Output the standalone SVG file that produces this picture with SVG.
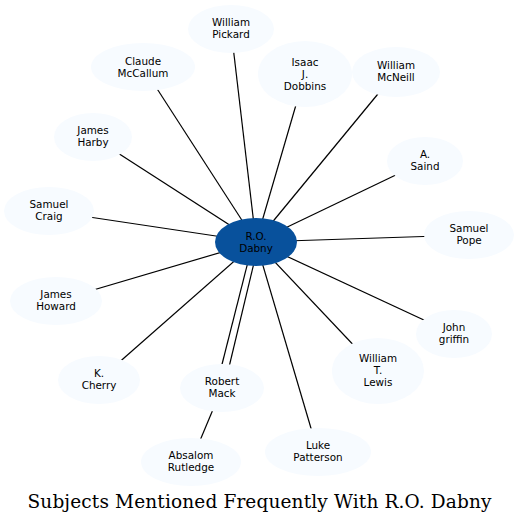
<svg xmlns="http://www.w3.org/2000/svg" width="519" height="524" viewBox="0 0 519 524">
<style>
.n ellipse{fill:#f7fbff;stroke:none}
.c ellipse{fill:#08519c;stroke:none}
text{font-family:"DejaVu Sans",sans-serif;font-size:10.4px;fill:#000;text-anchor:middle}
.e line{stroke:#000;stroke-width:1.2}
.title{font-family:"DejaVu Serif","Liberation Serif",serif;font-size:18.5px}
</style>
<rect width="519" height="524" fill="#fff"/>
<g id="edges" class="e">
<line x1="256" y1="242" x2="231" y2="29"/>
<line x1="256" y1="242" x2="143" y2="67"/>
<line x1="256" y1="242" x2="305" y2="74"/>
<line x1="256" y1="242" x2="396" y2="72"/>
<line x1="256" y1="242" x2="93" y2="137"/>
<line x1="256" y1="242" x2="425" y2="161"/>
<line x1="256" y1="242" x2="49" y2="211"/>
<line x1="256" y1="242" x2="469" y2="235"/>
<line x1="256" y1="242" x2="56" y2="301"/>
<line x1="256" y1="242" x2="454" y2="334"/>
<line x1="256" y1="242" x2="378" y2="371"/>
<line x1="256" y1="242" x2="99" y2="380"/>
<line x1="253" y1="242" x2="216" y2="388"/>
<line x1="259" y1="242" x2="224" y2="388"/>
<line x1="256" y1="242" x2="318" y2="452"/>
<line x1="222" y1="388" x2="191" y2="462"/>
</g>
<g id="n_pickard" class="n"><ellipse cx="231" cy="29" rx="43" ry="24"/><text x="231" y="26">William</text><text x="231" y="38">Pickard</text></g>
<g id="n_mccallum" class="n"><ellipse cx="143" cy="67" rx="52" ry="24"/><text x="143" y="65">Claude</text><text x="143" y="77">McCallum</text></g>
<g id="n_dobbins" class="n"><ellipse cx="305" cy="74" rx="47" ry="33"/><text x="305" y="66">Isaac</text><text x="305" y="78">J.</text><text x="305" y="90">Dobbins</text></g>
<g id="n_mcneill" class="n"><ellipse cx="396" cy="72" rx="44" ry="25"/><text x="396" y="69">William</text><text x="396" y="81">McNeill</text></g>
<g id="n_harby" class="n"><ellipse cx="93" cy="137" rx="39" ry="24"/><text x="93" y="134">James</text><text x="93" y="146">Harby</text></g>
<g id="n_saind" class="n"><ellipse cx="425" cy="161" rx="38" ry="24"/><text x="425" y="158">A.</text><text x="425" y="170">Saind</text></g>
<g id="n_craig" class="n"><ellipse cx="49" cy="211" rx="45" ry="24"/><text x="49" y="208">Samuel</text><text x="49" y="220">Craig</text></g>
<g id="n_pope" class="n"><ellipse cx="469" cy="235" rx="45" ry="24"/><text x="469" y="232">Samuel</text><text x="469" y="244">Pope</text></g>
<g id="n_howard" class="n"><ellipse cx="56" cy="301" rx="46" ry="24"/><text x="56" y="298">James</text><text x="56" y="310">Howard</text></g>
<g id="n_griffin" class="n"><ellipse cx="454" cy="334" rx="38" ry="24"/><text x="454" y="331">John</text><text x="454" y="343">griffin</text></g>
<g id="n_lewis" class="n"><ellipse cx="378" cy="371" rx="46" ry="33"/><text x="378" y="362">William</text><text x="378" y="374">T.</text><text x="378" y="386">Lewis</text></g>
<g id="n_cherry" class="n"><ellipse cx="99" cy="380" rx="41" ry="24"/><text x="99" y="377">K.</text><text x="99" y="389">Cherry</text></g>
<g id="n_mack" class="n"><ellipse cx="222" cy="388" rx="42" ry="24"/><text x="222" y="385">Robert</text><text x="222" y="397">Mack</text></g>
<g id="n_rutledge" class="n"><ellipse cx="191" cy="462" rx="50" ry="24"/><text x="191" y="459">Absalom</text><text x="191" y="471">Rutledge</text></g>
<g id="n_patterson" class="n"><ellipse cx="318" cy="452" rx="53" ry="24"/><text x="318" y="449">Luke</text><text x="318" y="461">Patterson</text></g>
<g id="n_dabny" class="c"><ellipse cx="256" cy="242" rx="41" ry="24"/><text x="256" y="240">R.O.</text><text x="256" y="252">Dabny</text></g>
<text class="title" x="259.5" y="508" textLength="464" lengthAdjust="spacing">Subjects Mentioned Frequently With R.O. Dabny</text>
</svg>
